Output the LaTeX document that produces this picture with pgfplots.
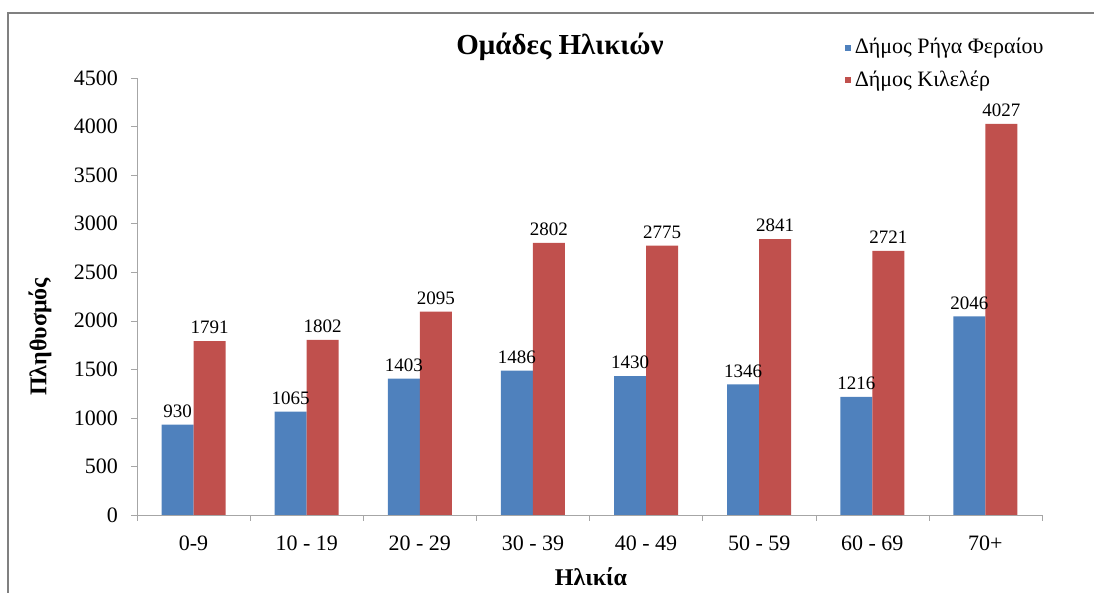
\documentclass[border=0pt]{standalone}
\usepackage{fontspec}
\setmainfont{Liberation Serif}
\usepackage{pgfplots}
\pgfplotsset{compat=1.18}
\definecolor{bblue}{HTML}{4F81BD}
\definecolor{bred}{HTML}{C0504D}
\definecolor{axgray}{HTML}{A6A6A6}
\definecolor{framegray}{HTML}{808080}

\begin{document}
\begin{tikzpicture}
\path[use as bounding box] (-68.5pt,-39pt) rectangle (478.5pt,257.5pt);
\draw[framegray, line width=1pt] (-64.5pt,-45pt) -- (-64.5pt,251pt) -- (485pt,251pt);
\begin{axis}[
  at={(0,0)}, anchor=south west, scale only axis,
  width=452.5pt, height=218.5pt,
  ybar=0pt, bar width=16pt,
  xmin=-0.5, xmax=7.5, ymin=0, ymax=4500,
  ytick={0,500,...,4500},
  xtick={0,...,7},
  xticklabels={0-9, 10 - 19, 20 - 29, 30 - 39, 40 - 49, 50 - 59, 60 - 69, 70+},
  minor xtick={-0.5,0.5,...,7.5},
  major x tick style={draw=none},
  axis x line*=bottom, axis y line*=left,
  axis line style={draw=axgray, -},
  tick style={draw=axgray},
  tick align=outside,
  major tick length=3pt, minor tick length=3pt,
  /pgf/number format/assume math mode=true,
  /pgf/number format/1000 sep={},
  tick label style={font=\fontsize{11}{13}\selectfont},
  yticklabel style={xshift=-3pt},
  xticklabel style={yshift=-4pt},
  nodes near coords,
  nodes near coords style={font=\fontsize{9.5}{11}\selectfont, text=black},
  legend style={at={(0.775,1.11)}, anchor=north west, draw=none, fill=none,
    font=\fontsize{11}{13}\selectfont, row sep=3pt},
  legend cell align=left,
]
\addplot[fill=bblue, draw=none,
  legend image code/.code={\fill[bblue] (0pt,-1.5pt) rectangle (3pt,1.5pt);}]
  coordinates {(0,930) (1,1065) (2,1403) (3,1486) (4,1430) (5,1346) (6,1216) (7,2046)};
\addplot[fill=bred, draw=none,
  legend image code/.code={\fill[bred] (0pt,-1.5pt) rectangle (3pt,1.5pt);}]
  coordinates {(0,1791) (1,1802) (2,2095) (3,2802) (4,2775) (5,2841) (6,2721) (7,4027)};
\legend{Δήμος Ρήγα Φεραίου, Δήμος Κιλελέρ}
\end{axis}
\node[font=\fontsize{14.5}{17}\selectfont\bfseries] at (211.5pt,234pt) {Ομάδες Ηλικιών};
\node[font=\fontsize{12}{14}\selectfont\bfseries] at (227pt,-31pt) {Ηλικία};
\node[font=\fontsize{12}{14}\selectfont\bfseries, rotate=90] at (-48.5pt,89pt) {Πληθυσμός};
\end{tikzpicture}
\end{document}
